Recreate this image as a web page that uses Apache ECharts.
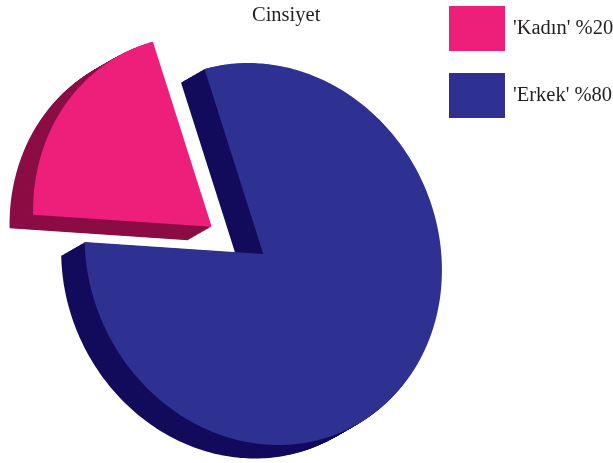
<!DOCTYPE html>
<html>
<head>
<meta charset="utf-8">
<style>html,body{margin:0;padding:0;background:#fff}#chart{width:613px;height:463px}</style>
<script src="https://cdn.jsdelivr.net/npm/echarts@6/dist/echarts.min.js"></script>
</head>
<body>
<div id="chart"></div>
<script>
const categories = ["'Kadın' %20", "'Erkek' %80"];
const shares = [20, 80];
const faceColors = ['#ed1f7b', '#2e3192'];
const sideColors = ['#8c0d45', '#130b5c'];

// slice apex on screen; the pie is drawn tilted so it is a sheared ellipse
const apex = [[211.7, 226.7], [263.3, 254]];
const depth = [-23.5, 13.5];
const startAngle = -14.4;

const total = shares.reduce((a, b) => a + b, 0);

function slicePoints(index, ox, oy) {
  const before = shares.slice(0, index).reduce((a, b) => a + b, 0);
  // runs counter clockwise from the top, Kadın first
  const from = startAngle - before / total * 360;
  const to = from - shares[index] / total * 360;
  const steps = Math.ceil(Math.abs(to - from));
  const [cx, cy] = apex[index];
  const pts = [[cx + ox, cy + oy]];
  for (let i = 0; i <= steps; i++) {
    const t = (from + (to - from) * i / steps) * Math.PI / 180;
    pts.push([
      cx + ox + 178 * Math.sin(t) - 15 * Math.cos(t),
      cy + oy - 191 * Math.cos(t)
    ]);
  }
  return pts;
}

function renderSlice(index) {
  return function () {
    const children = [];
    const layers = 24;
    for (let k = layers; k > 0; k--) {
      children.push({
        type: 'polygon',
        shape: { points: slicePoints(index, depth[0] * k / layers, depth[1] * k / layers) },
        style: { fill: sideColors[index] }
      });
    }
    children.push({
      type: 'polygon',
      shape: { points: slicePoints(index, 0, 0) },
      style: { fill: faceColors[index] }
    });
    return { type: 'group', children };
  };
}

const chart = echarts.init(document.getElementById('chart'));
chart.setOption({
  animation: false,
  backgroundColor: '#fff',
  title: {
    text: 'Cinsiyet',
    left: 252,
    top: 5,
    padding: 0,
    textStyle: { fontFamily: 'Liberation Serif', fontSize: 20.5, fontWeight: 'normal', color: '#231f20' }
  },
  legend: {
    orient: 'vertical',
    left: 449,
    top: 6,
    padding: 0,
    icon: 'rect',
    itemWidth: 56,
    itemHeight: 45,
    itemGap: 22,
    data: categories,
    textStyle: { fontFamily: 'Liberation Serif', fontSize: 20.5, color: '#231f20', padding: [3, 0, 0, 3] }
  },
  series: categories.map((name, i) => ({
    type: 'custom',
    coordinateSystem: 'none',
    name,
    silent: true,
    itemStyle: { color: faceColors[i] },
    renderItem: renderSlice(i),
    data: [shares[i]]
  }))
});
</script>
</body>
</html>
